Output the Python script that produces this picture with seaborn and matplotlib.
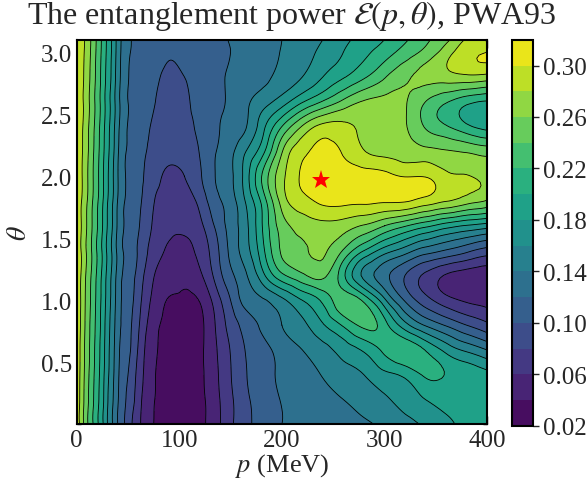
import numpy as np
import matplotlib
matplotlib.use("Agg")
import matplotlib.pyplot as plt
import matplotlib.tri as mtri
import seaborn as sns
from matplotlib.ticker import MultipleLocator

# ---- data ----
p_mev = [0, 5, 10, 15, 20, 25, 30, 35, 40, 50, 60, 75, 90, 105, 120, 135, 150,
         165, 180, 200, 220, 240, 260, 280, 300, 320, 340, 360, 380, 400]
theta = [0.0, 0.2, 0.4, 0.6, 0.8, 1.0, 1.2, 1.4, 1.6, 1.8, 2.0, 2.2, 2.4, 2.6,
         2.8, 3.0, 3.1]

E_t00 = [.293, .269, .244, .224, .204, .184, .160, .140, .120, .091, .065, .040, .032, .030, .035,
         .052, .076, .095, .107, .120, .125, .129, .133, .137, .144, .153, .163, .175, .186, .194]
E_t02 = [.293, .270, .246, .226, .206, .186, .162, .142, .122, .096, .069, .041, .032, .030, .035,
         .053, .076, .096, .109, .121, .128, .133, .140, .148, .157, .167, .180, .188, .192, .196]
E_t04 = [.294, .271, .248, .228, .208, .188, .165, .145, .124, .100, .073, .042, .033, .031, .036,
         .055, .079, .099, .112, .124, .134, .141, .152, .160, .175, .185, .203, .199, .193, .186]
E_t06 = [.294, .272, .250, .230, .210, .190, .167, .147, .126, .104, .078, .044, .035, .032, .036,
         .057, .081, .101, .113, .128, .140, .152, .168, .183, .205, .214, .199, .174, .156, .140]
E_t08 = [.294, .274, .251, .232, .212, .192, .169, .149, .129, .107, .083, .047, .036, .033, .036,
         .060, .088, .108, .123, .140, .155, .178, .203, .225, .208, .168, .138, .118, .100, .085]
E_t10 = [.295, .275, .253, .234, .214, .194, .172, .152, .131, .109, .088, .054, .039, .037, .041,
         .068, .100, .128, .137, .155, .180, .205, .232, .215, .165, .118, .088, .068, .057, .052]
E_t12 = [.295, .276, .255, .236, .216, .196, .174, .154, .133, .111, .093, .061, .048, .045, .056,
         .085, .115, .138, .170, .215, .236, .245, .205, .155, .126, .100, .076, .058, .050, .047]
E_t14 = [.295, .277, .257, .238, .218, .198, .176, .156, .135, .113, .098, .070, .058, .055, .066,
         .092, .125, .152, .190, .243, .258, .262, .238, .200, .170, .150, .130, .118, .105, .092]
E_t16 = [.296, .278, .259, .240, .221, .201, .179, .159, .137, .115, .102, .077, .064, .064, .075,
         .102, .128, .155, .197, .250, .268, .274, .270, .258, .240, .222, .205, .189, .178, .170]
E_t18 = [.296, .279, .261, .242, .223, .203, .181, .161, .139, .116, .105, .081, .073, .073, .086,
         .113, .131, .162, .203, .268, .293, .305, .306, .305, .303, .302, .292, .281, .269, .258]
E_t20 = [.296, .281, .263, .244, .225, .205, .183, .163, .141, .117, .107, .087, .077, .080, .097,
         .120, .136, .170, .219, .274, .303, .312, .311, .310, .307, .299, .299, .285, .281, .275]
E_t22 = [.297, .282, .265, .246, .227, .207, .186, .166, .143, .118, .109, .092, .085, .088, .101,
         .119, .134, .160, .190, .258, .295, .305, .298, .281, .274, .270, .266, .262, .258, .252]
E_t24 = [.297, .283, .266, .248, .229, .209, .188, .168, .146, .119, .110, .097, .090, .093, .105,
         .117, .126, .139, .170, .220, .262, .286, .285, .276, .270, .262, .238, .222, .205, .192]
E_t26 = [.297, .284, .268, .250, .231, .211, .190, .170, .148, .120, .111, .101, .095, .096, .108,
         .115, .124, .136, .150, .170, .198, .222, .245, .262, .266, .262, .240, .222, .206, .198]
E_t28 = [.298, .285, .270, .252, .233, .213, .193, .173, .150, .121, .112, .103, .098, .100, .109,
         .116, .122, .127, .134, .146, .160, .180, .198, .217, .238, .256, .266, .271, .275, .272]
E_t30 = [.298, .286, .272, .254, .235, .215, .195, .175, .152, .123, .114, .106, .101, .104, .110,
         .115, .120, .126, .132, .141, .152, .165, .180, .195, .210, .228, .246, .270, .292, .300]
E_t31 = [.298, .287, .273, .255, .236, .216, .196, .176, .153, .124, .115, .107, .103, .105, .110,
         .116, .121, .127, .131, .140, .150, .160, .175, .187, .200, .217, .236, .254, .282, .276]

max_p = [238]
max_theta = [1.97]

level_values = [0.02, 0.04, 0.06, 0.08, 0.10, 0.12, 0.14, 0.16, 0.18, 0.20,
                0.22, 0.24, 0.26, 0.28, 0.30, 0.32]
cbar_ticks = [0.02, 0.06, 0.10, 0.14, 0.18, 0.22, 0.26, 0.30]
x_ticks = [0, 100, 200, 300, 400]
y_ticks = [0.5, 1.0, 1.5, 2.0, 2.5, 3.0]

# ---- style ----
sns.set_style("ticks")
plt.rcParams["font.family"] = ["Liberation Serif", "DejaVu Serif"]
plt.rcParams["mathtext.fontset"] = "stix"

Z = np.array([E_t00, E_t02, E_t04, E_t06, E_t08, E_t10, E_t12, E_t14, E_t16,
              E_t18, E_t20, E_t22, E_t24, E_t26, E_t28, E_t30, E_t31])

# smooth rendering of the read grid with matplotlib's triangulation refiner
PP, TT = np.meshgrid(np.asarray(p_mev, float) / 400.0, np.asarray(theta, float) / 3.1)
tri = mtri.Triangulation(PP.ravel(), TT.ravel())
refiner = mtri.UniformTriRefiner(tri)
tri_f, z_f = refiner.refine_field(Z.ravel(), subdiv=3)
tri_plot = mtri.Triangulation(tri_f.x * 400.0, tri_f.y * 3.1, tri_f.triangles)

fig = plt.figure(figsize=(5.87, 4.81), dpi=100)
ax = fig.add_axes([0.1307, 0.1156, 0.699, 0.7998])
cax = fig.add_axes([0.8722, 0.1129, 0.0358, 0.8023])

cmap = sns.color_palette("viridis", as_cmap=True)
cf = ax.tricontourf(tri_plot, z_f, levels=level_values, cmap=cmap, extend="neither")
ax.tricontour(tri_plot, z_f, levels=level_values, colors="black", linewidths=0.6)
ax.plot(max_p, max_theta, linestyle="none", marker="*", color="red",
        markersize=14, markeredgewidth=0)

ax.set_xlim(0, 400)
ax.set_ylim(0, 3.1)
ax.set_xticks(x_ticks)
ax.set_yticks(y_ticks)
ax.xaxis.set_minor_locator(MultipleLocator(20))
ax.yaxis.set_minor_locator(MultipleLocator(0.1))
ax.tick_params(which="both", direction="in", top=True, right=True,
               labelsize=18, color="black", width=1.0)
ax.tick_params(which="major", length=6)
ax.tick_params(which="minor", length=3)
for s in ax.spines.values():
    s.set_linewidth(1.5)
    s.set_color("black")

ax.set_xlabel(r"$p$ (MeV)", fontsize=19, labelpad=0)
ax.set_ylabel(r"$\theta$", fontsize=20, labelpad=6)
fig.text(0.497, 0.966, r"The entanglement power $\mathcal{E}(p,\theta)$, PWA93",
         fontsize=23, ha="center", va="center")

cb = fig.colorbar(cf, cax=cax, ticks=cbar_ticks)
cb.ax.set_yticklabels([f"{t:.2f}" for t in cbar_ticks])
cb.ax.tick_params(labelsize=18, direction="out", length=4, width=1.0)
cb.outline.set_linewidth(1.5)
cb.outline.set_edgecolor("black")

fig.savefig("out.png", dpi=100)
